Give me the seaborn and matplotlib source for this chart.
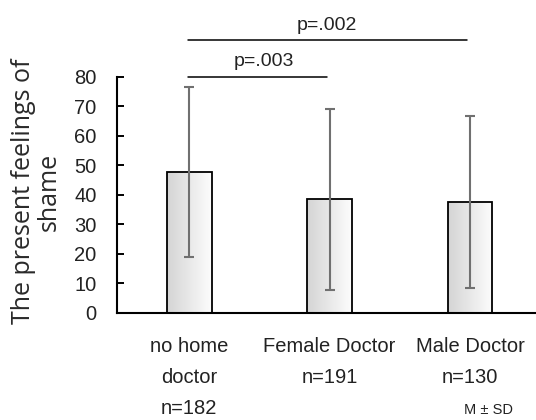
import numpy as np
import pandas as pd
import matplotlib
matplotlib.use('Agg')
import matplotlib.pyplot as plt
from matplotlib.colors import LinearSegmentedColormap
import seaborn as sns

groups = ['no home\ndoctor\nn=182', 'Female Doctor\nn=191', 'Male Doctor\nn=130']
means = [47.8, 38.6, 37.7]
sds = [28.7, 30.7, 29.2]
yticks = [0, 10, 20, 30, 40, 50, 60, 70, 80]
# significance brackets: left group, right group, line height, label
brackets = [(0, 1, 80.1, 'p=.003'), (0, 2, 92.5, 'p=.002')]

sns.set_style('ticks')
plt.rcParams['font.family'] = ['Liberation Sans', 'DejaVu Sans']
plt.rcParams['text.color'] = '#222222'

df = pd.DataFrame({'group': groups, 'mean': means, 'sd': sds})

fig = plt.figure(figsize=(5.36, 4.2), dpi=100)
ax = fig.add_axes([0.2192, 0.2548, 0.7808, 0.5619])

sns.barplot(data=df, x='group', y='mean', ax=ax, width=0.32,
            color='white', edgecolor='black', linewidth=1.3, errorbar=None)

# light grey -> white gradient inside the bars
cmap = LinearSegmentedColormap.from_list('bar', ['#d4d4d4', '#fdfdfd'])
grad = np.linspace(0.0, 1.0, 256).reshape(1, -1)
for p in ax.patches:
    x0, y0 = p.get_x(), p.get_y()
    w, h = p.get_width(), p.get_height()
    im = ax.imshow(grad, extent=[x0, x0 + w, y0, y0 + h], aspect='auto',
                   cmap=cmap, zorder=p.get_zorder() - 0.1)
    im.set_clip_path(p)
    p.set_facecolor('none')

ax.errorbar(range(len(groups)), df['mean'], yerr=df['sd'], fmt='none',
            ecolor='#707070', elinewidth=1.5, capsize=3.5, capthick=1.5, zorder=5)

ax.set_xlim(-0.51, 2.47)
ax.set_ylim(0, 80)
ax.set_yticks(yticks)
ax.tick_params(axis='y', direction='in', labelsize=14.5, width=1.4, length=5,
               pad=15, colors='black', labelcolor='#222222')
ax.tick_params(axis='x', length=0, labelsize=14.5, pad=17, labelcolor='#222222')
for lab in ax.get_xticklabels():
    lab.set_linespacing(1.8)
ax.set_xlabel('')
ax.set_ylabel('The present feelings of\nshame', fontsize=18, family='Open Sans',
              linespacing=1.05, color='#2a2a2a', ha='center', va='center')
ax.yaxis.set_label_coords(-0.1935, 0.515)
sns.despine(ax=ax)
ax.spines['left'].set_linewidth(1.5)
ax.spines['bottom'].set_linewidth(1.5)
ax.spines['left'].set_color('black')
ax.spines['bottom'].set_color('black')

label_pos = [(0.53, 85.3), (0.98, 97.6)]
for (a, b, y, label), (tx, ty) in zip(brackets, label_pos):
    ax.plot([a - 0.01, b - 0.02], [y, y], color='black', lw=1.1, clip_on=False)
    ax.text(tx, ty, label, ha='center', va='center', fontsize=14, clip_on=False)

fig.text(0.912, 0.024, 'M ± SD', ha='center', va='center', fontsize=10.5)

fig.savefig('out.png', dpi=100)
